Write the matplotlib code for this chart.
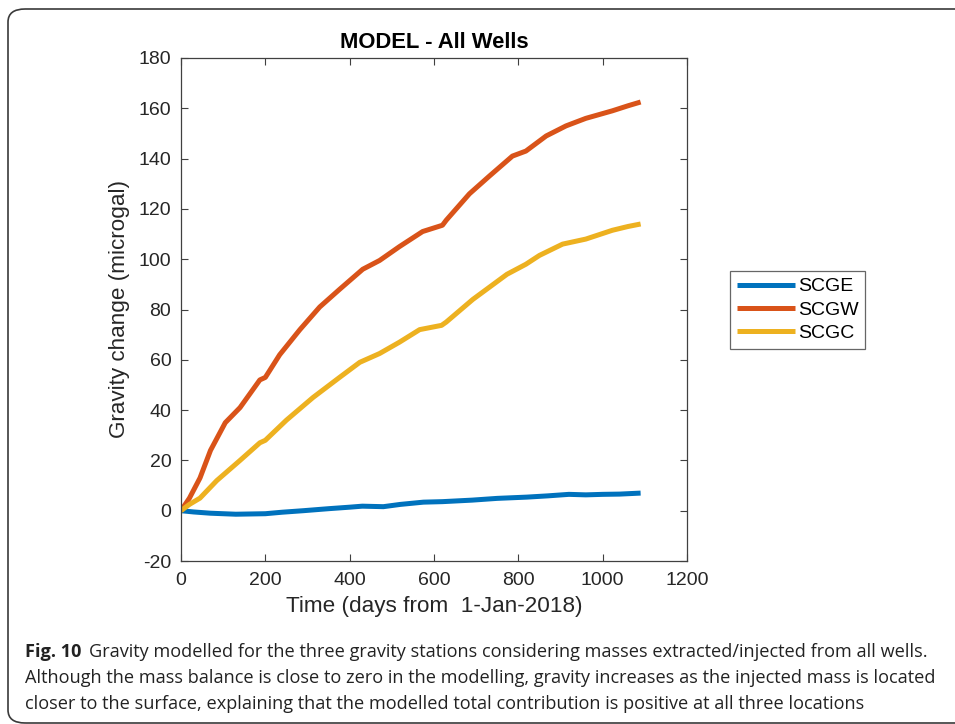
import matplotlib
matplotlib.use("Agg")
import matplotlib.pyplot as plt
from matplotlib.patches import FancyBboxPatch

# modelled gravity change per station (days since 1-Jan-2018, microgal)
days_e = [0, 30, 70, 130, 200, 240, 290, 350, 400, 430, 480, 520, 575, 620, 690, 750, 820, 870, 920, 960, 1000, 1040, 1090]
scge = [0, -0.5, -1.0, -1.4, -1.2, -0.6, 0.0, 0.8, 1.4, 1.8, 1.6, 2.5, 3.4, 3.6, 4.2, 4.9, 5.4, 5.9, 6.5, 6.3, 6.5, 6.6, 7.0]

days_w = [0, 20, 45, 70, 105, 140, 187, 200, 234, 282, 329, 376, 431, 471, 518, 573, 620, 629, 684, 731, 786, 818, 866, 913, 960, 1023, 1060, 1090]
scgw = [0, 5, 13, 24, 35, 41, 52, 53, 62, 72, 81, 88, 96, 99.5, 105, 111, 113.5, 115.5, 126, 133, 141, 143, 149, 153, 156, 159, 161, 162.5]

days_c = [0, 20, 45, 85, 140, 187, 200, 250, 313, 376, 424, 471, 518, 566, 618, 629, 692, 773, 818, 850, 905, 960, 1023, 1060, 1090]
scgc = [0, 2.5, 5, 12, 20, 27, 28, 36, 45, 53, 59, 62.5, 67, 72, 73.7, 75, 84, 94, 98, 101.5, 106, 108, 111.5, 113, 114]

series = [("SCGE", days_e, scge, "#0072BD"),
          ("SCGW", days_w, scgw, "#D95319"),
          ("SCGC", days_c, scgc, "#EDB120")]

x_ticks = [0, 200, 400, 600, 800, 1000, 1200]
y_ticks = [-20, 0, 20, 40, 60, 80, 100, 120, 140, 160, 180]

plt.rcParams["font.family"] = ["Liberation Sans", "DejaVu Sans"]
plt.rcParams["axes.unicode_minus"] = False

fig = plt.figure(figsize=(9.55, 7.24), dpi=100)
W, H = 955, 724

# rounded frame around figure + caption
frame = FancyBboxPatch((8 / W, 1 / H), (W + 20) / W, (H - 10) / H,
                       boxstyle="round,pad=0,rounding_size=0.018",
                       transform=fig.transFigure, fill=False,
                       edgecolor="#3a3a3a", linewidth=1.2, clip_on=False)
fig.patches.append(frame)

ax = fig.add_axes([181 / W, 1 - 561 / H, (687 - 181) / W, (561 - 58) / H])

for name, d, v, c in series:
    ax.plot(d, v, color=c, linewidth=3.6, label=name, solid_capstyle="butt")

ax.set_xlim(0, 1200)
ax.set_ylim(-20, 180)
ax.set_xticks(x_ticks)
ax.set_yticks(y_ticks)
ax.tick_params(direction="in", top=True, right=True, length=5, width=0.8,
               colors="#404040", labelsize=14, labelcolor="#262626")
ax.tick_params(axis="x", pad=8)
ax.tick_params(axis="y", pad=7)
for s in ax.spines.values():
    s.set_color("#404040")
    s.set_linewidth(0.9)

ax.set_xlabel("Time (days from  1-Jan-2018)", fontsize=16.2, color="#262626", labelpad=5)
ax.set_ylabel("Gravity change (microgal)", fontsize=16.2, color="#262626", labelpad=6)
ax.set_title("MODEL - All Wells", fontsize=15.8, fontweight="bold", pad=7)

leg = ax.legend(loc="center left", bbox_to_anchor=(730 / W, 1 - 310 / H),
                bbox_transform=fig.transFigure, fontsize=14, handlelength=3.0,
                frameon=True, fancybox=False, borderpad=0.35, labelspacing=0.3,
                handletextpad=0.15, borderaxespad=0)
leg.get_frame().set_edgecolor("#404040")
leg.get_frame().set_linewidth(0.9)

# caption
cap_font = ["Open Sans", "DejaVu Sans"]
cap_size = 13.05
fig.canvas.draw()
r = fig.canvas.get_renderer()
t = fig.text(25 / W, 1 - 652 / H, "Fig. 10", fontsize=cap_size, fontweight="bold",
             family=cap_font, va="center", color="#222222")
bb = t.get_window_extent(renderer=r)
fig.text(bb.x1 / W + 8 / W, 1 - 652 / H,
         "Gravity modelled for the three gravity stations considering masses extracted/injected from all wells.",
         fontsize=cap_size, family=cap_font, va="center", color="#222222")
fig.text(25 / W, 1 - 678 / H,
         "Although the mass balance is close to zero in the modelling, gravity increases as the injected mass is located",
         fontsize=cap_size, family=cap_font, va="center", color="#222222")
fig.text(25 / W, 1 - 704 / H,
         "closer to the surface, explaining that the modelled total contribution is positive at all three locations",
         fontsize=cap_size, family=cap_font, va="center", color="#222222")

fig.savefig("out.png", dpi=100)
